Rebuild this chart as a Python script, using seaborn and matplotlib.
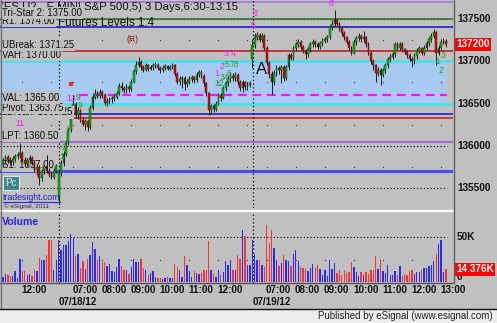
import numpy as np
import pandas as pd
import matplotlib
matplotlib.use("Agg")
import matplotlib.pyplot as plt
import matplotlib.transforms as mtransforms
from matplotlib.lines import Line2D
from matplotlib.patches import Rectangle
import seaborn as sns

# ---------------- data ----------------
day_lengths = [23, 80, 81]
day_first_time = ["11:20", "06:30", "06:30"]
day_dates = ["07/17/12", "07/18/12", "07/19/12"]

opens = [
    1357.9, 1358.3, 1358.7, 1358.3, 1358.1, 1358.5, 1358.8, 1359.0, 1359.2, 1358.4, 1357.9, 1358.3,
    1358.6, 1358.1, 1357.2, 1357.5, 1356.2, 1357.0, 1357.6, 1357.1, 1356.7, 1356.4, 1357.1,
    1354.0, 1356.8, 1358.0, 1359.1, 1360.4, 1361.9, 1363.6, 1365.0, 1363.6, 1364.2, 1363.1, 1362.6,
    1362.9, 1362.2, 1364.5, 1365.8, 1366.3, 1365.9, 1366.4, 1366.0, 1365.1, 1365.3, 1365.5, 1365.6,
    1365.8, 1366.2, 1367.1, 1366.8, 1366.6, 1367.0, 1366.7, 1367.6, 1368.8, 1369.6, 1369.9, 1369.3,
    1369.0, 1369.5, 1369.1, 1369.3, 1369.5, 1369.6, 1369.2, 1368.9, 1369.2, 1369.4, 1369.1, 1369.3,
    1369.5, 1368.5, 1367.6, 1367.9, 1368.0, 1367.3, 1367.6, 1367.9, 1368.1, 1367.8, 1368.4, 1368.7,
    1368.3, 1367.4, 1366.2, 1364.3, 1364.7, 1364.4, 1365.0, 1366.0, 1365.7, 1366.8, 1367.4, 1367.9,
    1368.3, 1368.0, 1368.4, 1367.6, 1366.8, 1367.5, 1366.9, 1367.2,
    1370.3, 1371.9, 1372.8, 1373.1, 1372.5, 1373.0, 1371.6, 1369.8, 1368.5, 1367.6, 1368.6, 1369.2,
    1368.9, 1369.3, 1368.0, 1369.3, 1370.7, 1370.4, 1371.5, 1372.0, 1372.3, 1371.7, 1371.2, 1370.8,
    1371.4, 1372.0, 1372.3, 1372.0, 1371.7, 1372.1, 1372.4, 1372.6, 1372.8, 1374.0, 1374.4, 1374.8,
    1374.4, 1373.9, 1373.3, 1372.8, 1372.3, 1371.6, 1371.0, 1372.2, 1372.7, 1373.0, 1372.6, 1372.8,
    1372.0, 1371.0, 1370.0, 1369.5, 1368.6, 1369.0, 1368.4, 1368.9, 1369.5, 1370.2, 1370.5, 1370.8,
    1372.0, 1371.6, 1372.0, 1371.4, 1371.1, 1370.7, 1370.3, 1370.0, 1370.6, 1371.2, 1371.5, 1371.0,
    1371.6, 1372.1, 1372.6, 1373.0, 1373.4, 1371.0, 1371.6, 1372.3, 1372.4,
]
closes = [
    1358.3, 1358.7, 1358.3, 1358.1, 1358.5, 1358.8, 1359.0, 1359.2, 1358.4, 1357.9, 1358.3, 1358.6,
    1358.1, 1357.2, 1357.5, 1356.2, 1357.0, 1357.6, 1357.1, 1356.7, 1356.4, 1357.1, 1357.6,
    1356.8, 1358.0, 1359.1, 1360.4, 1361.9, 1363.6, 1365.0, 1363.6, 1364.2, 1363.1, 1362.6, 1362.9,
    1362.2, 1364.5, 1365.8, 1366.3, 1365.9, 1366.4, 1366.0, 1365.1, 1365.3, 1365.5, 1365.6, 1365.8,
    1366.2, 1367.1, 1366.8, 1366.6, 1367.0, 1366.7, 1367.6, 1368.8, 1369.6, 1369.9, 1369.3, 1369.0,
    1369.5, 1369.1, 1369.3, 1369.5, 1369.6, 1369.2, 1368.9, 1369.2, 1369.4, 1369.1, 1369.3, 1369.5,
    1368.5, 1367.6, 1367.9, 1368.0, 1367.3, 1367.6, 1367.9, 1368.1, 1367.8, 1368.4, 1368.7, 1368.3,
    1367.4, 1366.2, 1364.3, 1364.7, 1364.4, 1365.0, 1366.0, 1365.7, 1366.8, 1367.4, 1367.9, 1368.3,
    1368.0, 1368.4, 1367.6, 1366.8, 1367.5, 1366.9, 1367.2, 1367.4,
    1371.9, 1372.8, 1373.1, 1372.5, 1373.0, 1371.6, 1369.8, 1368.5, 1367.6, 1368.6, 1369.2, 1368.9,
    1369.3, 1368.0, 1369.3, 1370.7, 1370.4, 1371.5, 1372.0, 1372.3, 1371.7, 1371.2, 1370.8, 1371.4,
    1372.0, 1372.3, 1372.0, 1371.7, 1372.1, 1372.4, 1372.6, 1372.8, 1374.0, 1374.4, 1374.8, 1374.4,
    1373.9, 1373.3, 1372.8, 1372.3, 1371.6, 1371.0, 1372.2, 1372.7, 1373.0, 1372.6, 1372.8, 1372.0,
    1371.0, 1370.0, 1369.5, 1368.6, 1369.0, 1368.4, 1368.9, 1369.5, 1370.2, 1370.5, 1370.8, 1372.0,
    1371.6, 1372.0, 1371.4, 1371.1, 1370.7, 1370.3, 1370.0, 1370.6, 1371.2, 1371.5, 1371.0, 1371.6,
    1372.1, 1372.6, 1373.0, 1373.4, 1371.0, 1371.6, 1372.3, 1372.4, 1372.0,
]
highs = [
    1358.6, 1359.0, 1358.9, 1358.7, 1358.8, 1359.1, 1359.3, 1360.3, 1359.4, 1358.7, 1358.6, 1358.9,
    1358.8, 1358.3, 1357.9, 1357.8, 1357.3, 1357.9, 1359.0, 1357.4, 1357.0, 1357.4, 1357.9,
    1357.2, 1358.3, 1359.4, 1360.7, 1362.2, 1364.0, 1366.0, 1365.2, 1364.6, 1364.4, 1363.4, 1363.2,
    1363.1, 1364.8, 1366.1, 1366.7, 1366.5, 1366.7, 1366.6, 1366.2, 1365.6, 1365.8, 1365.9, 1366.1,
    1366.5, 1367.4, 1367.5, 1367.1, 1367.3, 1367.2, 1367.9, 1369.1, 1370.0, 1370.5, 1370.1, 1369.6,
    1369.8, 1369.7, 1369.6, 1369.8, 1369.9, 1369.8, 1369.4, 1369.5, 1369.7, 1369.6, 1369.6, 1369.8,
    1369.7, 1368.7, 1368.2, 1368.3, 1368.2, 1367.9, 1368.2, 1368.4, 1368.3, 1368.7, 1369.0, 1368.9,
    1368.5, 1367.6, 1366.4, 1365.0, 1364.9, 1365.3, 1366.3, 1366.2, 1367.1, 1367.7, 1368.2, 1368.7,
    1368.6, 1368.7, 1368.6, 1367.8, 1367.8, 1367.7, 1367.5, 1367.7,
    1372.6, 1373.3, 1373.4, 1373.3, 1373.3, 1373.2, 1371.8, 1370.0, 1368.8, 1368.9, 1369.5, 1369.4,
    1369.6, 1369.5, 1369.6, 1371.0, 1371.0, 1371.8, 1372.3, 1372.6, 1372.5, 1371.9, 1371.4, 1371.7,
    1372.3, 1372.6, 1372.5, 1372.2, 1372.4, 1372.7, 1372.9, 1373.1, 1374.3, 1374.9, 1376.0, 1375.0,
    1374.6, 1374.1, 1373.5, 1373.0, 1372.5, 1371.8, 1372.5, 1373.0, 1373.3, 1373.2, 1373.5, 1373.0,
    1372.2, 1371.2, 1370.2, 1369.7, 1369.3, 1369.2, 1369.2, 1369.8, 1370.5, 1370.8, 1371.1, 1372.3,
    1372.3, 1372.3, 1372.2, 1371.6, 1371.3, 1370.9, 1370.5, 1370.9, 1371.5, 1371.8, 1371.7, 1371.9,
    1372.4, 1372.9, 1373.3, 1373.8, 1373.6, 1371.9, 1372.6, 1372.7, 1372.6,
]
lows = [
    1357.6, 1358.0, 1358.0, 1357.8, 1357.8, 1358.2, 1358.5, 1358.6, 1358.1, 1357.6, 1357.6, 1358.0,
    1357.8, 1356.9, 1356.6, 1355.4, 1355.9, 1356.7, 1356.8, 1356.4, 1356.1, 1356.1, 1356.8,
    1353.4, 1356.5, 1357.7, 1358.8, 1360.1, 1361.6, 1363.3, 1363.3, 1363.2, 1362.8, 1362.3, 1361.9,
    1361.8, 1362.0, 1364.3, 1365.5, 1365.6, 1365.6, 1365.7, 1364.8, 1364.7, 1364.9, 1365.1, 1365.3,
    1365.5, 1366.0, 1366.5, 1366.2, 1366.3, 1366.4, 1366.5, 1367.4, 1368.5, 1369.3, 1369.0, 1368.7,
    1368.8, 1368.8, 1368.9, 1369.0, 1369.2, 1368.9, 1368.6, 1368.7, 1369.0, 1368.9, 1368.9, 1369.1,
    1368.2, 1367.3, 1367.2, 1366.8, 1366.6, 1366.9, 1367.3, 1367.6, 1367.4, 1367.6, 1368.1, 1368.0,
    1367.1, 1365.9, 1363.6, 1363.8, 1364.0, 1364.1, 1364.8, 1365.3, 1365.5, 1366.5, 1367.1, 1367.6,
    1367.7, 1367.7, 1367.2, 1366.5, 1366.4, 1366.6, 1366.6, 1366.9,
    1369.2, 1371.6, 1372.5, 1372.2, 1372.2, 1371.3, 1369.5, 1368.0, 1366.0, 1367.2, 1368.2, 1368.5,
    1367.4, 1367.7, 1367.8, 1369.0, 1370.1, 1370.1, 1371.2, 1371.7, 1371.4, 1370.9, 1370.2, 1370.5,
    1371.1, 1371.7, 1371.7, 1371.4, 1371.4, 1371.8, 1372.1, 1372.3, 1372.6, 1373.7, 1374.1, 1374.1,
    1373.6, 1373.0, 1372.5, 1372.0, 1371.3, 1370.7, 1370.8, 1371.9, 1372.4, 1372.3, 1372.3, 1371.7,
    1370.7, 1369.7, 1369.0, 1367.6, 1368.3, 1367.2, 1368.1, 1368.6, 1369.2, 1369.9, 1370.2, 1370.5,
    1371.3, 1371.3, 1371.1, 1370.8, 1370.4, 1370.0, 1369.3, 1369.7, 1370.3, 1370.9, 1370.7, 1370.7,
    1371.3, 1371.8, 1372.3, 1372.7, 1369.6, 1370.7, 1371.3, 1372.0, 1371.7,
]
volumes_k = [
    6, 9, 8, 7, 7, 12, 5, 26, 12, 12, 8, 9, 7, 13, 12, 27, 24, 25, 30, 46, 46, 13, 24,
    46, 35, 41, 41, 45, 53, 49, 29, 31, 16, 23, 15, 26, 30, 44, 36, 24, 29, 22, 22,
    18, 20, 12, 11, 17, 26, 18, 13, 13, 9, 17, 26, 22, 22, 26, 16, 13, 8, 10, 12,
    6, 5, 5, 4, 5, 6, 5, 5, 20, 17, 13, 6, 29, 19, 12, 6, 12, 10, 9, 10,
    14, 13, 45, 13, 9, 6, 13, 8, 11, 23, 19, 25, 13, 13, 30, 26, 57, 51, 19, 19,
    46, 31, 25, 24, 19, 17, 63, 43, 57, 38, 25, 18, 21, 30, 24, 23, 18, 31, 35, 23,
    17, 16, 15, 12, 16, 20, 16, 19, 15, 8, 13, 7, 24, 15, 21, 10, 13, 8, 13, 10,
    11, 22, 17, 11, 7, 11, 8, 11, 9, 13, 13, 29, 15, 26, 12, 10, 19, 8, 8, 12,
    8, 18, 7, 9, 8, 12, 13, 9, 11, 11, 13, 16, 16, 18, 19, 23, 31, 42, 46, 11, 14.376,
]

level_names = ["Tri-Star 2", "R1", "UBreak", "VAH", "VAL", "Pivot", "LBreak", "LPT", "S1"]
level_values = [1375.00, 1374.00, 1371.25, 1370.00, 1365.00, 1363.75, 1363.25, 1360.50, 1357.00]
top_level = 1377.00
value_area = (1365.00, 1370.00)
dashed_level = 1366.00
dashed_from_bar = 32
last_price = 1372.00
price_ticks = [1355, 1360, 1365, 1370, 1375]
volume_tick = 50

ann_text = ["13", "9", "9", "4", "3", "2", "1", "25", "11", "(R)", "1", "2", "3 4", "5", "78",
            "34", "12", "6", "5", "6'", "6'", "A", "3", "1", "2"]
ann_bar = [28.1, 30.9, 31.8, 27.3, 26.4, 25.2, 24.4, 26.9, 7.0, 53.7, 88.4, 90.5, 93.8, 92.6, 95.4,
           91.5, 89.5, 93.4, 103.3, 104.5, 136.0, 107.0, 181.8, 179.8, 181.0]
ann_price = [1365.6, 1365.7, 1364.8, 1362.2, 1360.7, 1359.8, 1358.8, 1364.0, 1362.7, 1372.6, 1368.6,
             1369.4, 1370.9, 1369.6, 1369.6, 1368.1, 1367.4, 1368.6, 1374.2, 1375.6, 1376.8, 1369.0,
             1370.7, 1370.0, 1368.9]
ann_kind = ["m", "g", "g", "g", "g", "g", "g", "k", "m", "r", "m", "m", "m", "g", "g",
            "g", "g", "g", "m", "m", "m", "A", "g", "g", "g"]

# ---------------- styling ----------------
sns.set_style("white")
plt.rcParams["font.family"] = ["Liberation Sans", "DejaVu Sans"]

W, H = 497, 323
BG = "#c0c0c0"
level_colors = ["#1f7a1f", "#1212d2", "#c41212", "#36e6f2", "#36e6f2", "#1212d2", "#d01212",
                "#9a5ae0", "#4c4cff"]
level_widths = [1.1, 1.1, 1.1, 1.8, 1.8, 1.1, 1.1, 1.2, 2.2]
ann_colors = {"m": "#ff18ff", "g": "#2e9a2e", "k": "#505050", "r": "#8b1414", "A": "#101010"}

fig = plt.figure(figsize=(W / 100, H / 100), dpi=100, facecolor=BG)

n = len(closes)
idx = np.arange(n)
o = np.array(opens); c = np.array(closes); hi = np.array(highs); lo = np.array(lows)
up = c >= o
BAR_PX, BAR0_PX, PLOT_W = 2.42, 3.0, 453
X0, X1 = -BAR0_PX / BAR_PX, (PLOT_W - BAR0_PX) / BAR_PX
x_end = n - 0.5

day_starts = np.cumsum([0] + day_lengths[:-1])
minutes = []
for L, t in zip(day_lengths, day_first_time):
    h, m = map(int, t.split(":"))
    minutes += [h * 60 + m + 5 * k for k in range(L)]
minutes = np.array(minutes)
hour_bars = idx[minutes % 60 == 0]

axp = fig.add_axes([0, 1 - 208 / H, PLOT_W / W, 208 / H])
axv = fig.add_axes([0, 1 - 283 / H, PLOT_W / W, 71 / H])
for ax in (axp, axv):
    ax.set_facecolor(BG)
axp.set_ylim(1352.7, 1377.2)

# value area box
axp.add_patch(Rectangle((X0, value_area[0]), x_end - X0, value_area[1] - value_area[0],
                        fc="#a8caf0", ec="none", zorder=0.5))
# dotted grid
axp.hlines(price_ticks, X0, x_end, colors="k", linestyles=(0, (1, 2)), lw=0.8, zorder=0.8)
gx, gy = np.meshgrid(hour_bars, [1372.5, 1367.5, 1362.5, 1357.5])
axp.scatter(gx.ravel(), gy.ravel(), s=0.8, color="#303030", zorder=0.9, linewidths=0)
# levels
axp.axhline(top_level, color="#a070e0", lw=1.1, zorder=1)
for val, col, lw in zip(level_values, level_colors, level_widths):
    axp.axhline(val, color=col, lw=lw, zorder=1)
axp.hlines(dashed_level, dashed_from_bar - 0.5, x_end, colors="#ff10ff",
           linestyles=(0, (4, 2.5)), lw=1.6, zorder=1.2)
for s in day_starts[1:]:
    axp.axvline(s + 0.3, color="k", ls=(0, (1, 2)), lw=0.9, zorder=1.1)
    axv.axvline(s + 0.3, color="k", ls=(0, (1, 2)), lw=0.9, zorder=1.1)

# candles
axp.vlines(idx, lo, hi, color="#1c1c1c", lw=0.7, zorder=3)
body_bot = np.minimum(o, c)
body_h = np.maximum(np.abs(c - o), 0.12)
axp.bar(idx[up], body_h[up], bottom=body_bot[up], width=0.72, color="#00c000",
        edgecolor="#1c1c1c", linewidth=0.3, zorder=4)
axp.bar(idx[~up], body_h[~up], bottom=body_bot[~up], width=0.72, color="#e80000",
        edgecolor="#1c1c1c", linewidth=0.3, zorder=4)

# annotations
for t, b, p, k in zip(ann_text, ann_bar, ann_price, ann_kind):
    fs = 12 if k == "A" else 6.2
    axp.text(b, p, t, color=ann_colors[k], fontsize=fs, ha="center", va="center", zorder=6)
axp.scatter([ann_bar[0]], [1367.3], marker="s", s=5, color="#ff2020", zorder=6, linewidths=0)

# volume (seaborn)
df = pd.DataFrame({"bar": idx, "volume": volumes_k, "dir": np.where(up, "up", "down")})
sns.barplot(data=df, x="bar", y="volume", hue="dir",
            palette={"up": "#2a2af2", "down": "#f23434"}, native_scale=True, width=0.55,
            dodge=False, errorbar=None, legend=False, saturation=1, ax=axv, zorder=3,
            edgecolor="none", linewidth=0, antialiased=False)
axv.hlines(volume_tick, X0, x_end, colors="k", linestyles=(0, (1, 2)), lw=0.8, zorder=1)
axv.scatter(hour_bars, np.full(len(hour_bars), 25.0), s=0.8, color="#303030", linewidths=0, zorder=1)
axv.set_ylim(-0.77, 77.1)

for ax in (axp, axv):
    ax.set_xlim(X0, X1)
    ax.set_xticks([]); ax.set_yticks([])
    ax.set_xlabel(""); ax.set_ylabel("")
    for sp in ax.spines.values():
        sp.set_visible(False)

# right-side labels
tp = mtransforms.blended_transform_factory(axp.transAxes, axp.transData)
for p in price_ticks:
    if abs(p - last_price) > 1.5:
        axp.text(1 + 4 / PLOT_W, p, f"{int(round(p * 100))}", transform=tp, fontsize=7.2,
                 fontweight="bold", va="center", ha="left", clip_on=False, color="#101010")
axp.text(1 + 3 / PLOT_W, last_price, f"{int(round(last_price * 100))}", transform=tp, fontsize=7.2,
         fontweight="bold", va="center", ha="left", color="white", clip_on=False,
         bbox=dict(boxstyle="square,pad=0.15", fc="#ff0000", ec="none"))
tv = mtransforms.blended_transform_factory(axv.transAxes, axv.transData)
axv.text(1 + 4 / PLOT_W, volume_tick, f"{volume_tick}K", transform=tv, fontsize=7.2,
         fontweight="bold", va="center", ha="left", clip_on=False, color="#101010")
axv.text(1 + 4 / PLOT_W, 0, "0", transform=tv, fontsize=7.2, fontweight="bold",
         va="bottom", ha="left", clip_on=False, color="#101010")
axv.text(1 + 3 / PLOT_W, volumes_k[-1], f"{volumes_k[-1]:.3f}K", transform=tv, fontsize=7.2,
         fontweight="bold", va="center", ha="left", color="white", clip_on=False,
         bbox=dict(boxstyle="square,pad=0.15", fc="#ff0000", ec="none"))

# left level labels
for k, (name, val) in enumerate(zip(level_names, level_values)):
    tr = mtransforms.offset_copy(tp, fig=fig, x=0, y=3, units="dots")
    z = 1.6 if name == "S1" else 20 - k
    axp.text(2 / PLOT_W, val, f"{name}: {val:.2f}", transform=tr, fontsize=6.9, va="baseline",
             ha="left", color="#101010", zorder=z, clip_on=False,
             bbox=dict(boxstyle="square,pad=0.12", fc=BG, ec="none"))

# titles (under the labels)
axp.text(0.5 / W, 1 - 7.5 / H, "(ES U2 - E MINI S&P 500,5) 3 Days,6:30-13:15", transform=fig.transFigure,
         fontsize=8.2, va="center", ha="left", color="#101010", zorder=1.5, clip_on=False)
axp.text(58 / W, 1 - 22.5 / H, "Futures Levels 1.4", transform=fig.transFigure,
         fontsize=8.4, va="center", ha="left", color="#101010", zorder=1.5, clip_on=False)

# time axis labels
tx = mtransforms.blended_transform_factory(axv.transData, fig.transFigure)
day_ends = day_starts + np.array(day_lengths)
for b in hour_bars:
    d = np.searchsorted(day_starts, b, side="right") - 1
    if d < len(day_lengths) - 1 and day_ends[d] - b < 6:
        continue
    mm = minutes[b]
    axv.text(b - 0.4, 1 - 290 / H, f"{mm // 60:02d}:{mm % 60:02d}", transform=tx,
             fontsize=7.1, fontweight="bold", ha="left", va="center", clip_on=False, color="#101010")
for s, dstr in zip(day_starts[1:], day_dates[1:]):
    axv.text(s, 1 - 302 / H, dstr, transform=tx, fontsize=7.1, fontweight="bold",
             ha="left", va="center", clip_on=False, color="#101010")

# frame lines & decorations (figure coordinates)
def fl(x0, y0, x1, y1, **kw):
    fig.add_artist(Line2D([x0 / W, x1 / W], [1 - y0 / H, 1 - y1 / H], transform=fig.transFigure, **kw))

fl(0, 210.5, PLOT_W, 210.5, color="white", lw=1.6)
fl(0, 282.8, PLOT_W, 282.8, color="#505050", lw=1.0)
fl(PLOT_W + 0.5, 0, PLOT_W + 0.5, 283, color="#606060", lw=1.0)
fl(0.5, 0, 0.5, 309, color="#707070", lw=1.0)
fig.add_artist(Rectangle((0, 0), 1, 1 - 309 / H, transform=fig.transFigure, fc="#ececec", ec="none"))
fl(0, 309, W, 309, color="#101010", lw=1.0)
fig.text(493 / W, 1 - 316 / H, "Published by eSignal (www.esignal.com)", fontsize=7, ha="right",
         va="center", color="#202020")

# left-bottom badges
fig.text(5 / W, 1 - 183 / H, "Pc", fontsize=7, ha="left", va="center", color="#e8f4f4",
         bbox=dict(boxstyle="square,pad=0.25", fc="#3b8585", ec="#e0e8e8", lw=0.8))
fig.text(3 / W, 1 - 197 / H, "tradesight.com", fontsize=6.3, ha="left", va="center", color="#2020d0")
fl(3, 201.5, 60, 201.5, color="#3030e0", lw=0.9)
fig.text(4 / W, 1 - 206.5 / H, "\u00a9 eSignal, 2011", fontsize=4.6, ha="left", va="center", color="#303030")
fig.text(2 / W, 1 - 222 / H, "Volume", fontsize=7.6, fontweight="bold", ha="left", va="center",
         color="#2626e6")

fig.savefig("out.png", dpi=100, facecolor=BG)
